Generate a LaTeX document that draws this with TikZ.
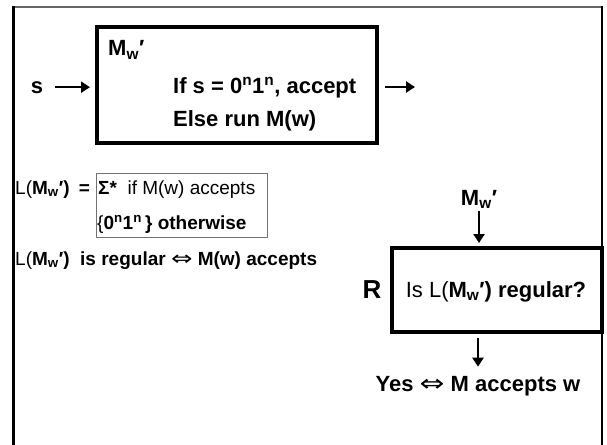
\documentclass[tikz,border=0pt]{standalone}
\usepackage{graphicx}
\usepackage{fontspec}
\setmainfont{Liberation Sans}
\newfontfamily\symfont{DejaVu Sans}
\usetikzlibrary{arrows.meta}
\newcommand{\mwp}{\textbf{M\textsubscript{w}′}}
\newcommand{\eqvsym}{\scalebox{1.35}[1.05]{\symfont\mdseries ⇔}}
\begin{document}
\begin{tikzpicture}[x=1pt,y=-1pt,
  bigbox/.style={draw, line width=4pt, inner sep=0pt},
  casebox/.style={draw=black!55, line width=1pt, inner sep=0pt},
  arr/.style={line width=2.5pt, -{Triangle[length=9pt,width=11pt]}},
  txt/.style={inner sep=0pt, font=\fontsize{22}{26}\selectfont\bfseries},
  mid/.style={inner sep=0pt, font=\fontsize{19}{23}\selectfont},
  bigR/.style={inner sep=0pt, font=\fontsize{26}{30}\selectfont\bfseries}]
\useasboundingbox (0,0) rectangle (607,444);
% outer frame
\draw[line width=2pt, black!60] (12,7.5) -- (603,7.5);
\draw[line width=3pt] (13,450) -- (13,6.5);
\draw[line width=2.5pt] (602,6.5) -- (602,450);
% top machine
\node[bigbox, minimum width=280pt, minimum height=116pt] (b1) at (237,85) {};
\node[txt, anchor=base west] (m1) at (108,56) {\mwp};
\node[txt, anchor=base west] (if) at (173,93) {If s = 0\textsuperscript{n}1\textsuperscript{n}, accept};
\node[txt, anchor=base west] (else) at (173,126) {Else run M(w)};
\node[txt, anchor=base] (s) at (37,93) {s};
\coordinate (out) at (415,87);
\draw[arr, shorten <=12pt, shorten >=5pt] (s) -- (s -| b1.west);
\draw[arr, shorten <=6pt] (b1.east |- out) -- (out);
% language description
\node[casebox, minimum width=171pt, minimum height=64pt] (cases) at (181.5,205) {};
\node[mid, anchor=base west] (l1) at (15,194) {L(\textbf{M\textsubscript{w}′)\hspace{4pt} =}};
\node[mid, anchor=base west] (c1) at (98,194) {\textbf{Σ*}\ \ if M(w) accepts};
\node[mid, anchor=base west] (c2) at (97,229) {\{\textbf{0\textsuperscript{n}1\textsuperscript{n}\,\} otherwise}};
\node[mid, anchor=base west] (l3) at (15,265) {L(\textbf{M\textsubscript{w}′)\ \ is regular \eqvsym{} M(w) accepts}};
% reduction R
\node[txt, anchor=base] (m2) at (479,205) {\mwp};
\node[bigbox, minimum width=210pt, minimum height=84pt] (b2) at (497,290) {};
\node[bigR, anchor=base] (r) at (372,298) {R};
\node[txt, anchor=base] (q) at (496,297) {\mdseries Is L(\textbf{M\textsubscript{w}′) regular?}};
\node[txt, anchor=base] (yes) at (478,391) {Yes \eqvsym{} M accepts w};
\draw[arr, shorten <=3pt, shorten >=3pt] (m2) -- (m2 |- b2.north);
\draw[arr, shorten <=4pt, shorten >=9pt] (b2.south -| yes) -- (yes);
\end{tikzpicture}
\end{document}
